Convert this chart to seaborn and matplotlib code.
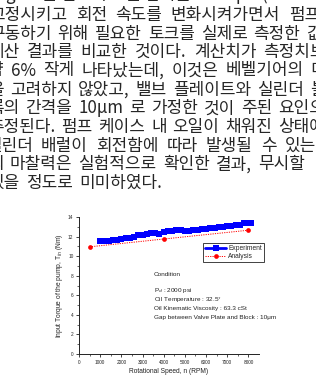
import matplotlib
matplotlib.use("Agg")
import matplotlib.pyplot as plt
import seaborn as sns
import pandas as pd

sns.set_style("ticks")
plt.rcParams["font.family"] = ["Liberation Sans", "DejaVu Sans"]

# ---------------- data ----------------
exp_rpm = [1000, 1200, 1400, 1600, 1800, 2000, 2200, 2400, 2600, 2800, 3000, 3200,
           3400, 3600, 3800, 4000, 4200, 4400, 4600, 4800, 5000, 5200, 5400, 5600,
           5800, 6000, 6200, 6400, 6600, 6800, 7000, 7200, 7400, 7600, 7800, 8000, 8100]
exp_torque = [11.50, 11.55, 11.58, 11.62, 11.70, 11.78, 11.82, 11.88, 11.95, 12.15, 12.20, 12.25,
              12.32, 12.38, 12.30, 12.45, 12.55, 12.60, 12.65, 12.70, 12.58, 12.62, 12.68, 12.72,
              12.78, 12.82, 12.88, 12.92, 12.98, 13.02, 13.05, 13.10, 13.15, 13.20, 13.35, 13.38, 13.35]
ana_rpm = [500, 4000, 8000]
ana_torque = [10.95, 11.75, 12.65]

x_ticks = [0, 1000, 2000, 3000, 4000, 5000, 6000, 7000, 8000]
y_ticks = [0, 2, 4, 6, 8, 10, 12, 14]

condition_lines = ["Condition", "", "P$_d$ : 2000 psi", "Oil Temperature : 32.5$^{\\circ}$",
                   "Oil Kinematic Viscosity : 63.3 cSt",
                   "Gap between Valve Plate and Block : 10\u03bcm"]

para_lines = [
    ["Fig.", "12는", "펌프의", "토출", "압력을", "2000", "psi", "(13.8", "MPa)로"],
    ["고정시키고", "회전", "속도를", "변화시켜가면서", "펌프"],
    ["구동하기", "위해", "필요한", "토크를", "실제로", "측정한", "값"],
    ["계산", "결과를", "비교한", "것이다.", "계산치가", "측정치보"],
    ["약", "6%", "작게", "나타났는데,", "이것은", "베벨기어의", "미"],
    ["을", "고려하지", "않았고,", "밸브", "플레이트와", "실린더", "블"],
    ["록의", "간격을", "10\u03bcm", "로", "가정한", "것이", "주된", "요인으"],
    ["추정된다.", "펌프", "케이스", "내", "오일이", "채워진", "상태에"],
    ["실린더", "배럴이", "회전함에", "따라", "발생될", "수", "있는"],
    ["의", "마찰력은", "실험적으로", "확인한", "결과,", "무시할"],
    ["있을", "정도로", "미미하였다."],
]

# ---------------- figure ----------------
W, H = 316, 376
fig = plt.figure(figsize=(W / 100, H / 100), dpi=100)
fig.patch.set_facecolor("white")

# paragraph layout (pixels): (y centre, left edge, right edge or None for left aligned)
para_layout = [(-5, -8, 330), (15, -11, 320), (33.5, -11, 322), (52, -12, 326),
               (70.5, -12, 326), (89.5, -12, 326), (108.3, -12, 325), (127, -12, 325),
               (145.7, -14, 316), (164.3, -12, 305), (183.2, -11, None)]
kfont = ["Noto Sans CJK KR", "DejaVu Sans"]
renderer = fig.canvas.get_renderer()
for words, (yc, xl, xr) in zip(para_lines, para_layout):
    texts = [fig.text(0, 1 - yc / H, w, family=kfont, fontsize=12.2, color="#262626",
                      ha="left", va="center") for w in words]
    widths = [t.get_window_extent(renderer=renderer).width for t in texts]
    if xr is None or len(words) == 1:
        gap = 6
    else:
        gap = max(3, (xr - xl - sum(widths)) / (len(words) - 1))
    x = xl
    for t, w in zip(texts, widths):
        t.set_x(x / W)
        x += w + gap

# chart axes
ax_left, ax_right, ax_top, ax_bot = 79, 259, 217, 354
ax = fig.add_axes([ax_left / W, 1 - ax_bot / H, (ax_right - ax_left) / W, (ax_bot - ax_top) / H])

df_exp = pd.DataFrame({"rpm": exp_rpm, "torque": exp_torque})
df_ana = pd.DataFrame({"rpm": ana_rpm, "torque": ana_torque})

sns.lineplot(data=df_exp, x="rpm", y="torque", ax=ax, color="#0000ff", marker="s",
             markersize=4.2, markeredgewidth=0, linewidth=2.0, label="Experiment")
sns.lineplot(data=df_ana, x="rpm", y="torque", ax=ax, color="#ff0000", marker="o",
             markersize=3.4, markeredgewidth=0, linewidth=0.7, linestyle=(0, (1.2, 1.2)),
             label="Analysis")

ax.set_xlim(0, 8500)
ax.set_ylim(0, 14)
ax.set_xticks(x_ticks)
ax.set_yticks(y_ticks)
ax.set_xticks([500 + 1000 * i for i in range(8)], minor=True)
ax.set_yticks([1, 3, 5, 7, 9, 11, 13], minor=True)
ax.set_xticklabels([str(v) for v in x_ticks])
ax.set_yticklabels([str(v) for v in y_ticks])
for s in ["top", "right"]:
    ax.spines[s].set_visible(False)
for s in ["left", "bottom"]:
    ax.spines[s].set_linewidth(0.7)
    ax.spines[s].set_color("#222222")
ax.tick_params(axis="both", which="major", direction="out", length=2.5, width=0.6,
               labelsize=3.4, pad=1.5, colors="#222222")
ax.tick_params(axis="both", which="minor", direction="out", length=1.5, width=0.5,
               colors="#222222")
ax.set_xlabel("Rotational Speed, n (RPM)", fontsize=4.8, labelpad=2.5, color="#222222")
ax.set_ylabel("Input Torque of the pump, T$_{in}$ (Nm)", fontsize=4.8, labelpad=2.5,
              color="#222222")

leg = ax.legend(loc="center", bbox_to_anchor=(0.858, 0.741), fontsize=4.8, frameon=True,
                fancybox=False, edgecolor="#222222", framealpha=1, borderpad=0.3,
                handlelength=3.2, handletextpad=0.3, labelspacing=0.15, borderaxespad=0)
leg.get_frame().set_linewidth(0.6)

# condition block
cond_y = [274.7, 283, 290.7, 300, 308.5, 317]
for txt, yc in zip(condition_lines, cond_y):
    if txt:
        fig.text(154 / W, 1 - yc / H, txt, fontsize=4.6, color="#222222", ha="left", va="center")

fig.savefig("out.png", dpi=100, facecolor="white")
